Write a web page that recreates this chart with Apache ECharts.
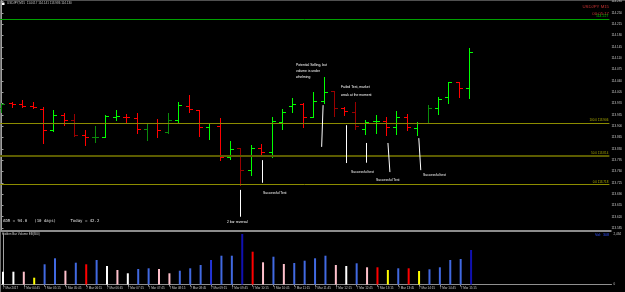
<!DOCTYPE html>
<html>
<head>
<meta charset="utf-8">
<script src="https://cdn.jsdelivr.net/npm/echarts@6/dist/echarts.min.js"></script>
<style>
  html, body { margin: 0; padding: 0; background: #000; }
  #main { width: 625px; height: 292px; }
</style>
</head>
<body>
<div id="main"></div>
<script>
// USDJPY M15 bars
const times = ["7 Mar 2017", "7 Mar 04:30", "7 Mar 04:45", "7 Mar 05:00", "7 Mar 05:15", "7 Mar 05:30",
  "7 Mar 05:45", "7 Mar 06:00", "7 Mar 06:15", "7 Mar 06:30", "7 Mar 06:45", "7 Mar 07:00", "7 Mar 07:15",
  "7 Mar 07:30", "7 Mar 07:45", "7 Mar 08:00", "7 Mar 08:15", "7 Mar 08:30", "7 Mar 08:45", "7 Mar 09:00",
  "7 Mar 09:15", "7 Mar 09:30", "7 Mar 09:45", "7 Mar 10:00", "7 Mar 10:15", "7 Mar 10:30", "7 Mar 10:45",
  "7 Mar 11:00", "7 Mar 11:15", "7 Mar 11:30", "7 Mar 11:45", "7 Mar 12:00", "7 Mar 12:15", "7 Mar 12:30",
  "7 Mar 12:45", "7 Mar 13:00", "7 Mar 13:15", "7 Mar 13:30", "7 Mar 13:45", "7 Mar 14:00", "7 Mar 14:15",
  "7 Mar 14:30", "7 Mar 14:45", "7 Mar 15:00", "7 Mar 15:15", "7 Mar 15:30"];

const opens = [113.955, 113.971, 113.967, 113.963, 113.953, 113.887, 113.934, 113.918, 113.873, 113.865,
  113.868, 113.929, 113.929, 113.926, 113.891, 113.909, 113.881, 113.918, 113.961, 113.950,
  113.896, 113.900, 113.805, 113.831, 113.764, 113.833, 113.820, 113.914, 113.962, 113.967,
  113.929, 113.979, 114.008, 113.955, 113.943, 113.891, 113.915, 113.916, 113.896, 113.929,
  113.893, 113.909, 113.955, 113.989, 114.035, 114.017];
const highs = [113.973, 113.976, 113.981, 113.974, 113.958, 113.950, 113.940, 113.937, 113.888, 113.900,
  113.934, 113.950, 113.937, 113.940, 113.910, 113.922, 113.940, 113.976, 113.996, 113.950,
  113.910, 113.924, 113.854, 113.831, 113.842, 113.844, 113.929, 113.952, 113.986, 113.971,
  114.006, 114.053, 114.009, 113.960, 113.976, 113.919, 113.934, 113.927, 113.947, 113.937,
  113.914, 113.965, 113.989, 114.037, 114.036, 114.141];
const lows = [113.945, 113.960, 113.960, 113.955, 113.849, 113.886, 113.903, 113.869, 113.842, 113.852,
  113.865, 113.919, 113.910, 113.878, 113.857, 113.865, 113.880, 113.910, 113.945, 113.869,
  113.859, 113.795, 113.800, 113.718, 113.749, 113.808, 113.805, 113.891, 113.945, 113.898,
  113.929, 113.972, 113.931, 113.934, 113.890, 113.876, 113.878, 113.872, 113.876, 113.888,
  113.872, 113.909, 113.937, 113.972, 113.991, 113.986];
const closes = [113.970, 113.967, 113.963, 113.958, 113.887, 113.934, 113.918, 113.872, 113.867, 113.866,
  113.931, 113.931, 113.927, 113.890, 113.909, 113.889, 113.919, 113.964, 113.952, 113.896,
  113.909, 113.804, 113.828, 113.764, 113.833, 113.820, 113.916, 113.943, 113.967, 113.929,
  113.979, 114.005, 113.955, 113.947, 113.900, 113.914, 113.916, 113.896, 113.929, 113.896,
  113.909, 113.955, 113.984, 114.035, 114.017, 114.130];
// g up, r down, G / R darker bars
const barTones = ["G", "r", "r", "r", "r", "g", "r", "R", "r", "G", "g", "g", "r", "r", "G", "r", "G", "g",
  "r", "r", "g", "r", "g", "R", "g", "r", "g", "g", "g", "r", "g", "g", "R", "r", "R", "g", "g", "r",
  "g", "r", "g", "G", "g", "g", "r", "g"];

const volumes = [617, 617, 617, 328, 974, 1263, 665, 1051, 974, 1181, 892, 699, 540, 747, 781, 747,
  540, 665, 781, 940, 1181, 1388, 1388, 2434, 1581, 1070, 1340, 988, 1036, 1147, 1263, 1388, 940,
  892, 1022, 829, 829, 699, 781, 781, 651, 733, 829, 1181, 1229, 1663];
const volumeTones = ["W", "W", "P", "Y", "B", "B", "P", "B", "R", "B", "W", "P", "W", "B", "B", "P",
  "P", "B", "B", "B", "D", "B", "B", "N", "R", "P", "B", "P", "B", "B", "B", "B", "P", "W", "B", "P",
  "R", "Y", "B", "R", "Y", "B", "B", "B", "B", "N"];

const priceTicks = [114.285, 114.250, 114.215, 114.180, 114.145, 114.110, 114.075, 114.040, 114.005,
  113.970, 113.935, 113.900, 113.865, 113.830, 113.795, 113.760, 113.725, 113.690, 113.655, 113.620, 113.585];
const timeTicks = [0, 2, 4, 6, 8, 10, 12, 14, 16, 18, 20, 22, 24, 26, 28, 30, 32, 34, 36, 38, 40, 42, 44];
const volumeTicks = [0, 2434];

const levelLine = 114.227;
const fiboLevels = [113.906, 113.814, 113.718];
const lastPrice = 114.130;

// arrows drawn on the chart: [bar, price] -> [bar, price]
const arrows = [
  [[30.95, 113.965], [30.81, 113.836]],
  [[33.13, 113.903], [33.13, 113.786]],
  [[35.14, 113.848], [35.14, 113.787]],
  [[37.19, 113.848], [37.38, 113.758]],
  [[40.16, 113.863], [40.35, 113.764]],
  [[25.07, 113.795], [25.07, 113.725]],
  [[22.98, 113.703], [22.98, 113.620]]
];

const toneColor = { g: "#00ff00", r: "#ff0000", G: "#0b8a0b", R: "#9a0000" };
const volColor = { W: "#ffffff", P: "#ffc0cb", Y: "#ffff00", B: "#4169e1", D: "#2233d8", N: "#1010b0", R: "#ff0000" };

const ohlc = opens.map((o, i) => [i, o, closes[i], lows[i], highs[i]]);

function drawBar(params, api) {
  const i = api.value(0);
  const o = api.coord([i, api.value(1)]);
  const c = api.coord([i, api.value(2)]);
  const lo = api.coord([i, api.value(3)]);
  const hi = api.coord([i, api.value(4)]);
  const x = Math.round(hi[0]) + 0.5;
  const yo = Math.round(o[1]) + 0.5;
  const yc = Math.round(c[1]) + 0.5;
  const col = toneColor[barTones[params.dataIndex]];
  const st = { stroke: col, lineWidth: 1 };
  return {
    type: "group",
    children: [
      { type: "line", shape: { x1: x, y1: Math.round(hi[1]), x2: x, y2: Math.round(lo[1]) + 1 }, style: st },
      { type: "line", shape: { x1: x - 3.5, y1: yo, x2: x, y2: yo }, style: st },
      { type: "line", shape: { x1: x, y1: yc, x2: x + 3.5, y2: yc }, style: st }
    ]
  };
}

const small = { fontFamily: "Liberation Sans", fontSize: 3 };
function note(x, y, text, extra) {
  return Object.assign({ type: "text", left: x, top: y,
    style: Object.assign({ text: text, fill: "#ffffff", font: "3.4px 'Liberation Sans'" }, extra || {}) });
}

const option = {
  animation: false,
  backgroundColor: "#000000",
  grid: [
    { left: 0, right: 13.5, top: 0, height: 230 },
    { left: 0, right: 13.5, top: 234, height: 50.5 }
  ],
  xAxis: [
    { type: "value", gridIndex: 0, min: -0.144, max: 58.5, show: false },
    {
      type: "value", gridIndex: 1, min: -0.144, max: 58.5,
      axisLine: { lineStyle: { color: "#909090" } },
      axisTick: { customValues: timeTicks, length: 2, lineStyle: { color: "#909090" } },
      axisLabel: Object.assign({
        customValues: timeTicks, formatter: v => times[v] || "", color: "#c8c8c8",
        align: "left", margin: 2
      }, small),
      splitLine: { show: false }
    }
  ],
  yAxis: [
    {
      type: "value", gridIndex: 0, position: "right", min: 113.579, max: 114.290,
      axisLine: { show: true, lineStyle: { color: "#a0a0a0" } },
      axisTick: { show: true, customValues: priceTicks, length: 2, lineStyle: { color: "#a0a0a0" } },
      axisLabel: Object.assign({ customValues: priceTicks, formatter: v => v.toFixed(3), color: "#c8c8c8", margin: 2 }, small),
      splitLine: { show: false }
    },
    {
      type: "value", gridIndex: 1, position: "right", min: 0, max: 2434,
      axisLine: { show: true, lineStyle: { color: "#a0a0a0" } },
      axisTick: { show: false },
      axisLabel: Object.assign({ customValues: volumeTicks, color: "#c8c8c8", margin: 2 }, small),
      splitLine: { show: false }
    }
  ],
  series: [
    {
      type: "custom",
      xAxisIndex: 0, yAxisIndex: 0,
      renderItem: drawBar,
      encode: { x: 0, y: [1, 2, 3, 4] },
      data: ohlc,
      markLine: {
        silent: true, symbol: "none", animation: false,
        data: [
          { yAxis: levelLine, lineStyle: { color: "#00a000", width: 1, type: "solid" },
            label: { show: true, position: "insideEndTop", formatter: levelLine.toFixed(3), color: "#00c000",
              fontSize: 3.5, distance: 1 } },
          { yAxis: fiboLevels[0], lineStyle: { color: "#8c8c00", width: 1, type: "solid" },
            label: { show: true, position: "insideEndTop", formatter: "100.0 " + fiboLevels[0].toFixed(3), color: "#b4b400",
              fontSize: 3, distance: 1 } },
          { yAxis: fiboLevels[1], lineStyle: { color: "#5c5c00", width: 2, type: "solid" },
            label: { show: true, position: "insideEndTop", formatter: "50.0 " + fiboLevels[1].toFixed(3), color: "#a8a800",
              fontSize: 3, distance: 1 } },
          { yAxis: fiboLevels[2], lineStyle: { color: "#8c8c00", width: 1, type: "solid" },
            label: { show: true, position: "insideEndTop", formatter: "0.0 " + fiboLevels[2].toFixed(3), color: "#b4b400",
              fontSize: 3, distance: 1 } },
          { yAxis: lastPrice, lineStyle: { opacity: 0 },
            label: { show: true, position: "end", formatter: lastPrice.toFixed(3), color: "#000000",
              backgroundColor: "#ffffff", fontSize: 3, padding: [0.5, 1], distance: 1 } }
        ].concat(arrows.map(a => [
          { coord: a[0], lineStyle: { color: "#ffffff", width: 1, type: "solid" }, label: { show: false } },
          { coord: a[1] }
        ]))
      }
    },
    {
      type: "bar",
      xAxisIndex: 1, yAxisIndex: 1,
      barWidth: 2,
      data: volumes.map((v, i) => ({ value: [i, v], itemStyle: { color: volColor[volumeTones[i]] } }))
    }
  ],
  graphic: [
    { type: "rect", shape: { x: 0, y: 0, width: 1, height: 292 }, style: { fill: "#707070" } },
    { type: "rect", shape: { x: 0, y: 0, width: 625, height: 1 }, style: { fill: "#505050" } },
    { type: "rect", shape: { x: 0, y: 230, width: 611.5, height: 2 }, style: { fill: "#8c8c8c" } },
    { type: "rect", shape: { x: 2, y: 2.5, width: 2.5, height: 2.5 }, style: { fill: "#ffffff" } },
    note(7, 2, "USDJPY,M15  114.017 114.141 113.986 114.130", { fill: "#c8c8c8", font: "3px 'Liberation Sans'" }),
    { type: "text", right: 16, top: 5, style: { text: "USDJPY M15", fill: "#c83232", font: "4.3px 'Liberation Sans'", align: "right" } },
    { type: "text", right: 16, top: 11.5, style: { text: "00:05:17", fill: "#c83232", font: "4.3px 'Liberation Sans'", align: "right" } },
    note(296, 62.5, "Potential Selling, but\nvolume is under\nwhelming", { lineHeight: 5.8 }),
    note(341, 83, "Failed Test, market\nweak at the moment", { lineHeight: 8 }),
    note(351, 170.5, "Successful test"),
    note(376, 178.5, "Successful Test"),
    note(423, 173.5, "Successful test"),
    note(263, 191.5, "Successful Test"),
    note(227, 220.5, "2 bar reversal"),
    note(3, 218.5, "ADR = 94.0   (10 days)      Today = 42.2", { font: "4px 'DejaVu Sans Mono'", fill: "#e0e0e0" }),
    note(2, 232.5, "Hidden Bar Volume EB(300)", { fill: "#d0d0d0", font: "3px 'Liberation Sans'" }),
    { type: "text", right: 16, top: 232.5, style: { text: "Vol:  308", fill: "#3050ff", font: "3.6px 'Liberation Sans'", align: "right" } }
  ]
};

const myChart = echarts.init(document.getElementById("main"));
myChart.setOption(option);
window.onresize = function() {
  myChart.resize();
};
</script>
</body>
</html>
